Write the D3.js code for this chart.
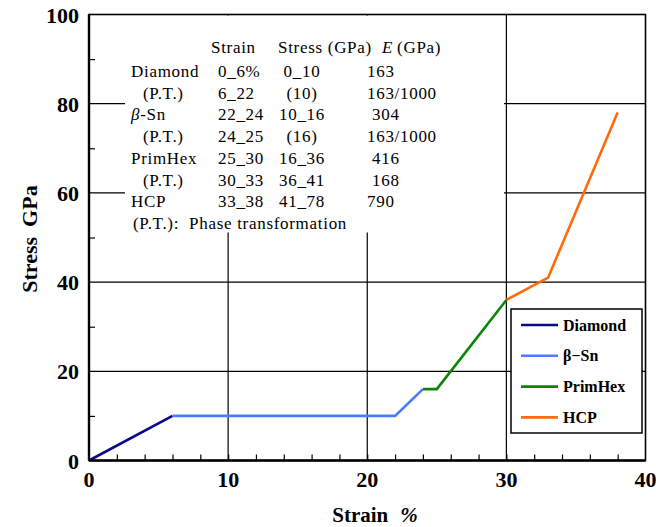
<!DOCTYPE html>
<html>
<head>
<meta charset="utf-8">
<script src="https://cdn.jsdelivr.net/npm/d3@7"></script>
<style>
  body { margin: 0; background: #fff; }
  text { font-family: "Liberation Serif", "Times New Roman", serif; }
</style>
</head>
<body>
<svg id="canvas"></svg>
<script>
// chart data
const seriesNames = ["Diamond", "\u03b2\u2212Sn", "PrimHex", "HCP"]
const seriesColors = ["#0a0a86", "#4a7cff", "#0b840b", "#ff6a0a"]
const diamondStrain = [0, 6]
const diamondStress = [0, 10]
const snStrain = [6, 22, 24]
const snStress = [10, 10, 16]
const primHexStrain = [24, 25, 30]
const primHexStress = [16, 16, 36]
const hcpStrain = [30, 33, 38]
const hcpStress = [36, 41, 78]

const xTicks = [0, 10, 20, 30, 40]
const yTicks = [0, 20, 40, 60, 80, 100]

// table text in the upper left
const tableHeader = ["Strain", "Stress (GPa)", "E"]
const tableRows = [
  ["Diamond", "0_6%", "0_10", "163"],
  ["(P.T.)", "6_22", "(10)", "163/1000"],
  ["\u03b2-Sn", "22_24", "10_16", "304"],
  ["(P.T.)", "24_25", "(16)", "163/1000"],
  ["PrimHex", "25_30", "16_36", "416"],
  ["(P.T.)", "30_33", "36_41", "168"],
  ["HCP", "33_38", "41_78", "790"]
]
const tableNote = "(P.T.):  Phase transformation"

const width = 656
const height = 527

let canvas = d3.select("#canvas")
canvas.attr('width', width).attr('height', height)

let xScale = d3.scaleLinear().domain([0, 40]).range([89, 645.5])
let yScale = d3.scaleLinear().domain([0, 100]).range([460.5, 14.5])

let series = [
  { name: seriesNames[0], color: seriesColors[0], x: diamondStrain, y: diamondStress },
  { name: seriesNames[1], color: seriesColors[1], x: snStrain, y: snStress },
  { name: seriesNames[2], color: seriesColors[2], x: primHexStrain, y: primHexStress },
  { name: seriesNames[3], color: seriesColors[3], x: hcpStrain, y: hcpStress }
]

let drawGrid = () => {
  // major grid lines
  canvas.append('g').selectAll('line')
    .data(xTicks.slice(1, -1))
    .enter().append('line')
    .attr('x1', d => xScale(d)).attr('x2', d => xScale(d))
    .attr('y1', yScale(0)).attr('y2', yScale(100))
    .attr('stroke', '#000').attr('stroke-width', 1.2)
  canvas.append('g').selectAll('line')
    .data(yTicks.slice(1, -1))
    .enter().append('line')
    .attr('x1', xScale(0)).attr('x2', xScale(40))
    .attr('y1', d => yScale(d)).attr('y2', d => yScale(d))
    .attr('stroke', '#000').attr('stroke-width', 1.2)

  // inward minor ticks
  let xAxis = d3.axisTop(xScale).tickValues(d3.range(2, 40, 2)).tickSize(6).tickFormat('')
  canvas.append('g')
    .attr('transform', `translate(0, ${yScale(0)})`)
    .call(xAxis)
    .call(g => g.select('.domain').remove())
    .call(g => g.selectAll('line').attr('stroke-width', 1.2))
  let yAxis = d3.axisRight(yScale).tickValues([10, 30, 50, 70, 90]).tickSize(6).tickFormat('')
  canvas.append('g')
    .attr('transform', `translate(${xScale(0)}, 0)`)
    .call(yAxis)
    .call(g => g.select('.domain').remove())
    .call(g => g.selectAll('line').attr('stroke-width', 1.2))
}

let drawTable = () => {
  // white panel hides the grid behind the text
  canvas.append('rect')
    .attr('x', 125).attr('y', yScale(100) + 1)
    .attr('width', 379).attr('height', 217)
    .attr('fill', '#fff')

  let t = canvas.append('g')
    .attr('font-size', 17)
    .attr('letter-spacing', 0.7)

  t.append('text').attr('x', 211).attr('y', 53).text(tableHeader[0])
  t.append('text').attr('x', 278).attr('y', 53).text(tableHeader[1])
  let e = t.append('text').attr('x', 382).attr('y', 53)
  e.append('tspan').attr('font-style', 'italic').text(tableHeader[2])
  e.append('tspan').attr('dx', 4).text('(GPa)')

  let colX = [131, 218, 302, 367]
  tableRows.forEach((row, i) => {
    let y = 77 + i * 21.7
    row.forEach((cell, j) => {
      let x = colX[j]
      if (j == 0 && cell == "(P.T.)") x = 143
      if (j == 3 && cell.length == 3 && i % 6 != 0) x += 5
      let txt = t.append('text')
        .attr('x', x)
        .attr('y', y)
        .attr('text-anchor', j == 2 ? 'middle' : 'start')
      if (cell.startsWith('\u03b2')) {
        txt.append('tspan').attr('font-style', 'italic').text('\u03b2')
        txt.append('tspan').text(cell.slice(1))
      } else {
        txt.text(cell)
      }
    })
  })
  t.append('text').attr('x', 133).attr('y', 77 + 7 * 21.7)
    .style('white-space', 'pre').text(tableNote)
}

let drawLines = () => {
  let line = d3.line()
    .x(d => xScale(d[0]))
    .y(d => yScale(d[1]))
  canvas.append('g').selectAll('path')
    .data(series)
    .enter().append('path')
    .attr('d', s => line(d3.zip(s.x, s.y)))
    .attr('fill', 'none')
    .attr('stroke', s => s.color)
    .attr('stroke-width', 2.6)
    .attr('stroke-linejoin', 'miter')
}

let drawFrame = () => {
  canvas.append('rect')
    .attr('x', xScale(0)).attr('y', yScale(100))
    .attr('width', xScale(40) - xScale(0))
    .attr('height', yScale(0) - yScale(100))
    .attr('fill', 'none').attr('stroke', '#000').attr('stroke-width', 1.6)
  canvas.append('line')
    .attr('x1', xScale(0)).attr('x2', xScale(0))
    .attr('y1', yScale(100)).attr('y2', yScale(0))
    .attr('stroke', '#000').attr('stroke-width', 2.4)
  canvas.append('line')
    .attr('x1', xScale(0)).attr('x2', xScale(40))
    .attr('y1', yScale(0)).attr('y2', yScale(0))
    .attr('stroke', '#000').attr('stroke-width', 2.4)
}

let drawLabels = () => {
  canvas.append('g').selectAll('text')
    .data(xTicks)
    .enter().append('text')
    .attr('x', d => xScale(d))
    .attr('y', 487)
    .attr('text-anchor', 'middle')
    .attr('font-size', 22).attr('font-weight', 'bold')
    .text(d => d)
  canvas.append('g').selectAll('text')
    .data(yTicks)
    .enter().append('text')
    .attr('x', 79)
    .attr('y', d => yScale(d) + 8)
    .attr('text-anchor', 'end')
    .attr('font-size', 22).attr('font-weight', 'bold')
    .text(d => d)

  let xt = canvas.append('text')
    .attr('x', 375).attr('y', 522)
    .attr('text-anchor', 'middle')
    .attr('font-size', 21).attr('font-weight', 'bold')
  xt.append('tspan').text('Strain')
  xt.append('tspan').attr('dx', 12).attr('font-style', 'italic').text('%')

  let yt = canvas.append('text')
    .attr('transform', 'translate(37, 239) rotate(-90)')
    .attr('text-anchor', 'middle')
    .attr('font-size', 22).attr('font-weight', 'bold')
  yt.append('tspan').text('Stress')
  yt.append('tspan').attr('dx', 10).text('GPa')
}

let drawLegend = () => {
  let lg = canvas.append('g')
  lg.append('rect')
    .attr('x', 511).attr('y', 309).attr('width', 131).attr('height', 124)
    .attr('fill', '#fff').attr('stroke', '#000').attr('stroke-width', 1.5)
  let item = lg.selectAll('g.item')
    .data(series)
    .enter().append('g')
    .attr('class', 'item')
    .attr('transform', (d, i) => `translate(0, ${325 + i * 30.8})`)
  item.append('line')
    .attr('x1', 521).attr('x2', 558)
    .attr('stroke', d => d.color).attr('stroke-width', 2.6)
  item.append('text')
    .attr('x', 563).attr('y', 5.5)
    .attr('font-size', 16).attr('font-weight', 'bold')
    .text(d => d.name)
}

drawGrid()
drawTable()
drawLines()
drawFrame()
drawLabels()
drawLegend()
</script>
</body>
</html>
